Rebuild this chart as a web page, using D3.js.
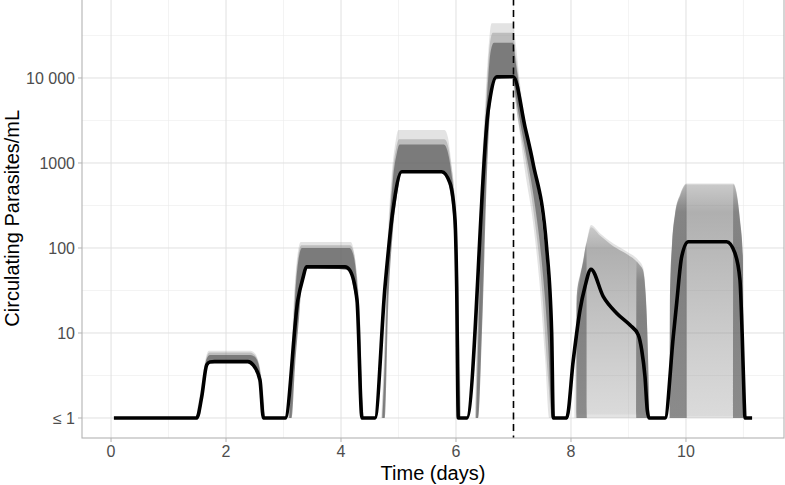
<!DOCTYPE html>
<html><head><meta charset="utf-8">
<script src="https://cdn.jsdelivr.net/npm/d3@7"></script>
<style>
body{margin:0;background:#fff}
svg{display:block}
text{font-family:"Liberation Sans", Arial, Helvetica, sans-serif}
</style>
</head><body>
<svg id="chart" width="785" height="485"></svg>
<script>
// ---------- data ----------
const medianT = [0.05,1.49,1.577,1.664,1.72,1.80,2.38,2.47,2.59,2.65,
  3.03,3.25,3.34,3.40,4.07,4.15,4.278,4.365,
  4.59,4.765,4.904,5.056,5.751,5.896,5.983,6.012,6.04,
  6.19,6.562,6.708,6.997,7.2,7.339,7.577,7.664,7.692,
  7.925,8.04,8.157,8.243,8.348,8.562,8.795,9.026,9.17,9.23,9.287,9.327,9.357,
  9.635,9.779,9.838,9.925,10.04,10.708,10.852,10.939,10.979,11.014,11.026,11.15];
const medianV = [1,1,1.77,4.21,4.55,4.6,4.6,4.21,2.8,1,
  1,24.4,45,60,60,55,24.4,1,
  1,35,280,790,790,578,213,35,1,
  1,4219,10350,10350,2665,1000,100,10,1,
  1,4.8,18.6,35,56,26.8,17.1,12.4,9.5,6.3,3.06,1.24,1,
  1,9.06,22.4,78.8,118.6,118.6,86.8,42.1,9.06,1.49,1,1];

// simulation ensemble envelopes: [time, low, high]; null separates pieces
const lightBand = [
  [1.50,1,1.3],[1.58,1.77,2.6],[1.64,3.6,4.8],[1.70,4.5,6.2],[2.42,4.5,6.2],[2.47,4.21,6.0],[2.54,3.3,5.2],[2.60,2.4,3.6],[2.66,1,1.6],[2.68,1,1], null,
  [3.08,1,1],[3.12,1,3],[3.18,4,25],[3.25,15,90],[3.30,40,118],[3.40,58,118],[4.17,55,118],[4.22,35,95],[4.28,20,45],[4.33,3,15],[4.38,1,1.5],[4.40,1,1], null,
  [4.70,1,1],[4.74,1,4],[4.80,20,80],[4.88,150,700],[4.95,400,1800],[5.0,650,2450],[5.05,780,2450],[5.80,780,2450],[5.86,650,2000],[5.92,400,1000],[5.98,150,400],[6.03,10,80],[6.06,1,8],[6.09,1,1], null,
  [6.33,1,1],[6.37,1,20],[6.42,5,300],[6.50,300,4000],[6.56,3000,20000],[6.62,9000,44000],[6.70,10000,44000],[6.99,10000,44000],[7.04,5000,25000],[7.12,2000,8000],[7.20,800,3200],[7.34,200,1100],[7.45,40,450],[7.55,5,150],[7.62,1,40],[7.68,1,10],[7.70,1,1], null,
  [8.06,1,1],[8.10,1,29],[8.16,1,50],[8.215,1,72],[8.28,1,125],[8.348,1,186],[8.504,1,149],[8.736,1,113],[8.969,1,91],[9.17,1,72],[9.25,1,60],[9.30,1,30],[9.34,1,6],[9.374,1,1], null,
  [9.715,1,1],[9.722,1,30],[9.76,1,120],[9.81,1,255],[9.9,1,430],[10.01,1,575],[10.823,1,575],[10.88,1,450],[10.94,1,213],[10.99,1,80],[11.0,1,1]
];
const midBand = [
  [1.52,1,1.2],[1.60,2.0,2.8],[1.65,3.8,4.8],[1.71,4.5,5.9],[2.42,4.5,5.9],[2.47,4.21,5.7],[2.54,3.3,5.0],[2.60,2.4,3.4],[2.65,1,1.5],[2.67,1,1], null,
  [3.09,1,1],[3.13,1,3],[3.19,4,25],[3.26,15,85],[3.31,40,108],[3.40,58,108],[4.16,55,108],[4.22,35,90],[4.28,20,45],[4.33,3,14],[4.37,1,1.5],[4.39,1,1], null,
  [4.71,1,1],[4.75,1,4],[4.81,20,80],[4.89,150,650],[4.96,400,1500],[5.01,650,1900],[5.05,780,1900],[5.80,780,1900],[5.86,650,1600],[5.92,400,900],[5.98,150,380],[6.03,8,70],[6.06,1,6],[6.08,1,1], null,
  [6.34,1,1],[6.38,1,15],[6.44,8,400],[6.52,500,5000],[6.58,4000,22000],[6.64,9500,34000],[6.99,10000,34000],[7.04,5000,18000],[7.2,1200,3000],[7.34,300,1050],[7.5,30,200],[7.6,3,50],[7.67,1,10],[7.70,1,1]
];
const darkBand = [
  [1.54,1,1.3],[1.61,2.2,3.0],[1.66,4.0,4.9],[1.72,4.5,5.5],[2.42,4.5,5.5],[2.47,4.21,5.4],[2.54,3.3,4.8],[2.60,2.4,3.2],[2.65,1,1.4],[2.67,1,1], null,
  [3.10,1,1],[3.14,1,3],[3.20,4,25],[3.27,15,80],[3.32,40,100],[3.40,58,100],[4.15,55,100],[4.21,35,85],[4.27,20,45],[4.32,3,13],[4.37,1,1.5],[4.38,1,1], null,
  [4.72,1,1],[4.76,1,4],[4.82,20,80],[4.90,150,600],[4.97,400,1300],[5.02,650,1650],[5.06,780,1650],[5.79,780,1650],[5.85,650,1400],[5.91,400,850],[5.97,150,350],[6.02,8,60],[6.05,1,5],[6.07,1,1], null,
  [6.35,1,1],[6.39,1,10],[6.46,15,500],[6.54,800,6000],[6.60,5000,20000],[6.66,9500,26000],[6.99,10000,26000],[7.04,6000,15000],[7.2,1500,2900],[7.34,450,1000],[7.5,60,200],[7.6,8,40],[7.67,1,8],[7.70,1,1]
];
// fanned-out ensembles after treatment (days 8-11)
const fanBand = [
  [8.10,1.1,22],[8.2,1.1,65],[8.3,1.1,140],[8.348,1.1,175],[8.504,1.1,140],[8.736,1.1,105],[8.969,1.1,85],[9.17,1.1,66],[9.25,1.1,55],[9.3,1.05,26],[9.34,1,5],[9.36,1,1], null,
  [9.722,1.05,25],[9.76,1.05,110],[9.81,1.05,240],[9.9,1.05,410],[10.01,1.05,560],[10.823,1.05,560],[10.88,1.05,430],[10.94,1.05,200],[10.99,1,70],[11.0,1,1]
];
// dense rise/fall edges of the fanned ensembles
const edgeBand = [
  [8.095,1,1],[8.10,1,27],[8.16,1,48],[8.215,1,70],[8.27,1,115],[8.275,1,1], null,
  [9.135,1,1],[9.14,1,70],[9.2,1,62],[9.25,1,56],[9.30,1,28],[9.34,1,5],[9.36,1,1], null,
  [9.715,1,1],[9.722,1,30],[9.76,1,120],[9.81,1,255],[9.9,1,430],[10.01,1,570],[10.013,1,1], null,
  [10.818,1,1],[10.823,1,570],[10.88,1,450],[10.94,1,213],[10.99,1,80],[11.0,1,1]
];

const xTicks = [0,2,4,6,8,10];
const xMinor = [1,3,5,7,9,11];
const yTicks = [1,10,100,1000,10000];
const yTickLabels = ["\u2264 1","10","100","1000","10 000"];
const yMinor = [3.1623,31.623,316.23,3162.3,31623];
const treatmentDay = 7;
const xTitle = "Time (days)";
const yTitle = "Circulating Parasites/mL";

// ---------- layout ----------
const panel = {left: 82, right: 784, top: -1.5, bottom: 438};
const svg = d3.select("#chart");

const tExt = d3.extent(medianT);
const tPad = (tExt[1]-tExt[0])*0.05;
const x = d3.scaleLinear().domain([tExt[0]-tPad, tExt[1]+tPad]).range([panel.left, panel.right]);
const logMin = -0.2353, logMax = 4.935;
const y = d3.scaleLog().domain([Math.pow(10,logMin), Math.pow(10,logMax)]).range([panel.bottom, panel.top]);

const defs = svg.append("defs");
defs.append("clipPath").attr("id","clip")
  .append("rect").attr("x",panel.left).attr("y",panel.top)
  .attr("width",panel.right-panel.left).attr("height",panel.bottom-panel.top);
function vGrad(id, stops){
  const g = defs.append("linearGradient").attr("id",id).attr("x1",0).attr("x2",0).attr("y1",0).attr("y2",1);
  stops.forEach(s=>g.append("stop").attr("offset",s[0]).attr("stop-color",s[1]).attr("stop-opacity",s[2]));
}
vGrad("fanGrad",[[0,"#707070",0.22],[0.12,"#707070",0.45],[0.45,"#7a7a7a",0.32],[1,"#909090",0.1]]);
vGrad("edgeGrad",[[0,"#5a5a5a",0.15],[0.12,"#5a5a5a",0.5],[0.35,"#5a5a5a",0.62],[1,"#5a5a5a",0.62]]);

const grid = svg.append("g");
grid.selectAll(".xmin").data(xMinor).enter().append("line")
  .attr("x1",d=>x(d)).attr("x2",d=>x(d)).attr("y1",panel.top).attr("y2",panel.bottom)
  .attr("stroke","#ebebeb").attr("stroke-width",0.6);
grid.selectAll(".ymin").data(yMinor).enter().append("line")
  .attr("y1",d=>y(d)).attr("y2",d=>y(d)).attr("x1",panel.left).attr("x2",panel.right)
  .attr("stroke","#ebebeb").attr("stroke-width",0.6);
grid.selectAll(".xmaj").data(xTicks).enter().append("line")
  .attr("x1",d=>x(d)).attr("x2",d=>x(d)).attr("y1",panel.top).attr("y2",panel.bottom)
  .attr("stroke","#e0e0e0").attr("stroke-width",1);
grid.selectAll(".ymaj").data(yTicks).enter().append("line")
  .attr("y1",d=>y(d)).attr("y2",d=>y(d)).attr("x1",panel.left).attr("x2",panel.right)
  .attr("stroke","#e0e0e0").attr("stroke-width",1);

// ---------- ensemble bands ----------
function pieces(arr){
  const out=[]; let cur=[];
  arr.forEach(d=>{ if(d===null){ if(cur.length) out.push(cur); cur=[]; } else cur.push(d); });
  if(cur.length) out.push(cur);
  return out;
}
const area = d3.area().x(d=>x(d[0])).y0(d=>y(d[1])).y1(d=>y(d[2])).curve(d3.curveMonotoneX);
const plot = svg.append("g").attr("clip-path","url(#clip)");
[[lightBand,"#a3a3a3",0.3],[fanBand,"url(#fanGrad)",1],[midBand,"#808080",0.38],[darkBand,"#5a5a5a",0.66],[edgeBand,"url(#edgeGrad)",1]].forEach(([band,col,op])=>{
  plot.append("g").selectAll("path").data(pieces(band)).enter().append("path")
    .attr("d",area).attr("fill",col).attr("fill-opacity",op).attr("stroke","none");
});

// ---------- best-fit line ----------
const lineData = medianT.map((t,i)=>[t,medianV[i]]);
const line = d3.line().x(d=>x(d[0])).y(d=>y(d[1])).curve(d3.curveMonotoneX);
plot.append("path").datum(lineData).attr("d",line)
  .attr("fill","none").attr("stroke","#000").attr("stroke-width",3.6)
  .attr("stroke-linejoin","round");

// treatment day
plot.append("line").attr("x1",x(treatmentDay)).attr("x2",x(treatmentDay))
  .attr("y1",panel.top).attr("y2",panel.bottom)
  .attr("stroke","#000").attr("stroke-width",1.6).attr("stroke-dasharray","7,4.5");

// panel border
svg.append("rect").attr("x",panel.left).attr("y",panel.top)
  .attr("width",panel.right-panel.left).attr("height",panel.bottom-panel.top)
  .attr("fill","none").attr("stroke","#b3b3b3").attr("stroke-width",1.1);

// ---------- axes ----------
const ax = svg.append("g");
ax.selectAll(".xt").data(xTicks).enter().append("line")
  .attr("x1",d=>x(d)).attr("x2",d=>x(d)).attr("y1",panel.bottom).attr("y2",panel.bottom+4)
  .attr("stroke","#b3b3b3").attr("stroke-width",1);
ax.selectAll(".xl").data(xTicks).enter().append("text")
  .attr("x",d=>x(d)).attr("y",457).attr("text-anchor","middle")
  .attr("font-size",16).attr("fill","#4d4d4d").text(d=>d);
ax.selectAll(".yt").data(yTicks).enter().append("line")
  .attr("y1",d=>y(d)).attr("y2",d=>y(d)).attr("x1",panel.left-4).attr("x2",panel.left)
  .attr("stroke","#b3b3b3").attr("stroke-width",1);
ax.selectAll(".yl").data(yTicks).enter().append("text")
  .attr("x",75).attr("y",d=>y(d)).attr("dy","0.36em").attr("text-anchor","end")
  .attr("font-size",16).attr("fill","#4d4d4d").text((d,i)=>yTickLabels[i]);

svg.append("text").attr("x",(panel.left+panel.right)/2).attr("y",480)
  .attr("text-anchor","middle").attr("font-size",20).attr("fill","#000").text(xTitle);
svg.append("text").attr("transform",`translate(18.5,${(panel.top+panel.bottom)/2}) rotate(-90)`)
  .attr("text-anchor","middle").attr("font-size",20).attr("fill","#000").text(yTitle);
</script>
</body></html>
